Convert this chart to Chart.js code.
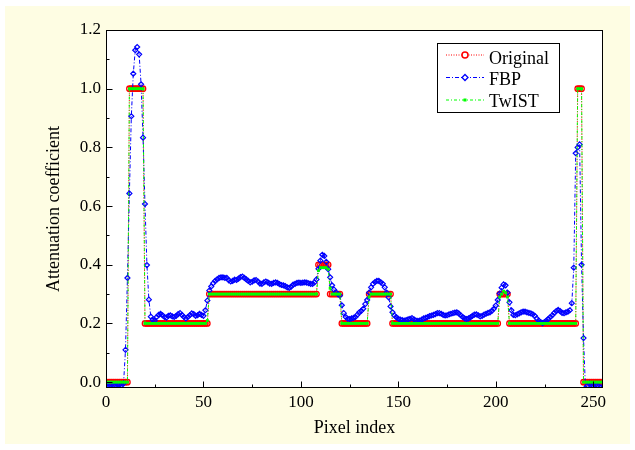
<!DOCTYPE html>
<html lang="en">
<head>
<meta charset="UTF-8" />
<title>Attenuation profile</title>
<script src="https://cdn.jsdelivr.net/npm/chart.js"></script>
<style>
  body { margin: 0; background: #ffffff; }
</style>
</head>
<body>
<canvas id="graficoPerfil" width="635" height="450"></canvas>
<script>
  // profile values, one per pixel index (0..255)
  const original = [
    0, 0, 0, 0, 0, 0, 0, 0, 0, 0, 0, 0, 1, 1, 1, 1,
    1, 1, 1, 1, 0.2, 0.2, 0.2, 0.2, 0.2, 0.2, 0.2, 0.2, 0.2, 0.2, 0.2, 0.2,
    0.2, 0.2, 0.2, 0.2, 0.2, 0.2, 0.2, 0.2, 0.2, 0.2, 0.2, 0.2, 0.2, 0.2, 0.2, 0.2,
    0.2, 0.2, 0.2, 0.2, 0.2, 0.3, 0.3, 0.3, 0.3, 0.3, 0.3, 0.3, 0.3, 0.3, 0.3, 0.3,
    0.3, 0.3, 0.3, 0.3, 0.3, 0.3, 0.3, 0.3, 0.3, 0.3, 0.3, 0.3, 0.3, 0.3, 0.3, 0.3,
    0.3, 0.3, 0.3, 0.3, 0.3, 0.3, 0.3, 0.3, 0.3, 0.3, 0.3, 0.3, 0.3, 0.3, 0.3, 0.3,
    0.3, 0.3, 0.3, 0.3, 0.3, 0.3, 0.3, 0.3, 0.3, 0.3, 0.3, 0.3, 0.3, 0.4, 0.4, 0.4,
    0.4, 0.4, 0.4, 0.3, 0.3, 0.3, 0.3, 0.3, 0.3, 0.2, 0.2, 0.2, 0.2, 0.2, 0.2, 0.2,
    0.2, 0.2, 0.2, 0.2, 0.2, 0.2, 0.2, 0.3, 0.3, 0.3, 0.3, 0.3, 0.3, 0.3, 0.3, 0.3,
    0.3, 0.3, 0.3, 0.2, 0.2, 0.2, 0.2, 0.2, 0.2, 0.2, 0.2, 0.2, 0.2, 0.2, 0.2, 0.2,
    0.2, 0.2, 0.2, 0.2, 0.2, 0.2, 0.2, 0.2, 0.2, 0.2, 0.2, 0.2, 0.2, 0.2, 0.2, 0.2,
    0.2, 0.2, 0.2, 0.2, 0.2, 0.2, 0.2, 0.2, 0.2, 0.2, 0.2, 0.2, 0.2, 0.2, 0.2, 0.2,
    0.2, 0.2, 0.2, 0.2, 0.2, 0.2, 0.2, 0.2, 0.2, 0.2, 0.3, 0.3, 0.3, 0.3, 0.3, 0.2,
    0.2, 0.2, 0.2, 0.2, 0.2, 0.2, 0.2, 0.2, 0.2, 0.2, 0.2, 0.2, 0.2, 0.2, 0.2, 0.2,
    0.2, 0.2, 0.2, 0.2, 0.2, 0.2, 0.2, 0.2, 0.2, 0.2, 0.2, 0.2, 0.2, 0.2, 0.2, 0.2,
    0.2, 0.2, 1, 1, 1, 0, 0, 0, 0, 0, 0, 0, 0, 0, 0, 0
  ];

  const fbp = [
    -0.01, -0.012, -0.01, -0.008, -0.01, -0.012, -0.011, -0.009, -0.01, -0.005, 0.11, 0.355, 0.643, 0.906, 1.051, 1.131,
    1.142, 1.117, 1.015, 0.833, 0.607, 0.399, 0.281, 0.223, 0.212, 0.21, 0.222, 0.229, 0.233, 0.228, 0.222, 0.22,
    0.226, 0.228, 0.224, 0.222, 0.226, 0.232, 0.235, 0.229, 0.222, 0.217, 0.222, 0.228, 0.234, 0.232, 0.226, 0.228,
    0.233, 0.229, 0.226, 0.245, 0.278, 0.312, 0.326, 0.337, 0.345, 0.35, 0.355, 0.357, 0.357, 0.355, 0.355, 0.347,
    0.343, 0.345, 0.349, 0.348, 0.353, 0.358, 0.36, 0.355, 0.35, 0.345, 0.34, 0.342, 0.347, 0.348, 0.343, 0.336,
    0.335, 0.34, 0.343, 0.34, 0.336, 0.335, 0.338, 0.34, 0.338, 0.334, 0.331, 0.33, 0.327, 0.323, 0.321, 0.325,
    0.332, 0.335, 0.338, 0.339, 0.338, 0.339, 0.34, 0.339, 0.337, 0.335, 0.335, 0.34, 0.35, 0.386, 0.414, 0.434,
    0.43, 0.41, 0.385, 0.357, 0.33, 0.315, 0.306, 0.3, 0.295, 0.262, 0.235, 0.222, 0.216, 0.215, 0.217, 0.219,
    0.222, 0.23, 0.238, 0.243, 0.25, 0.266, 0.28, 0.305, 0.323, 0.335, 0.341, 0.345, 0.345, 0.34, 0.335, 0.323,
    0.305, 0.289, 0.258, 0.238, 0.227, 0.221, 0.216, 0.213, 0.211, 0.21, 0.211, 0.214, 0.216, 0.218, 0.214, 0.21,
    0.209, 0.21, 0.213, 0.217, 0.219, 0.222, 0.225, 0.227, 0.229, 0.232, 0.235, 0.235, 0.233, 0.229, 0.227, 0.228,
    0.231, 0.233, 0.235, 0.237, 0.238, 0.234, 0.228, 0.222, 0.217, 0.215, 0.217, 0.221, 0.226, 0.23, 0.231, 0.228,
    0.224, 0.226, 0.23, 0.233, 0.236, 0.238, 0.243, 0.25, 0.261, 0.28, 0.302, 0.322, 0.333, 0.33, 0.305, 0.272,
    0.245, 0.229, 0.228, 0.231, 0.234, 0.238, 0.24, 0.24, 0.238, 0.236, 0.234, 0.231, 0.226, 0.217, 0.21, 0.205,
    0.201, 0.205, 0.21, 0.216, 0.222, 0.228, 0.236, 0.242, 0.246, 0.242, 0.236, 0.235, 0.238, 0.24, 0.245, 0.269,
    0.39, 0.78, 0.8, 0.81, 0.4, 0.15, -0.02, -0.012, -0.005, -0.008, -0.012, -0.01, -0.011, -0.015, -0.018, -0.02
  ];

  const twist = [
    0, 0, 0, 0, 0, 0, 0, 0, 0, 0, 0, 0, 1, 1, 1, 1,
    1, 1, 1, 1, 0.2, 0.2, 0.2, 0.2, 0.2, 0.2, 0.2, 0.2, 0.2, 0.2, 0.2, 0.2,
    0.2, 0.2, 0.2, 0.2, 0.2, 0.2, 0.2, 0.2, 0.2, 0.2, 0.2, 0.2, 0.2, 0.2, 0.2, 0.2,
    0.2, 0.2, 0.2, 0.2, 0.21, 0.3, 0.3, 0.3, 0.3, 0.3, 0.3, 0.3, 0.3, 0.3, 0.3, 0.3,
    0.3, 0.3, 0.3, 0.3, 0.3, 0.3, 0.3, 0.3, 0.3, 0.3, 0.3, 0.3, 0.3, 0.3, 0.3, 0.3,
    0.3, 0.3, 0.3, 0.3, 0.3, 0.3, 0.3, 0.3, 0.3, 0.3, 0.3, 0.3, 0.3, 0.3, 0.3, 0.3,
    0.3, 0.3, 0.3, 0.3, 0.3, 0.3, 0.3, 0.3, 0.3, 0.3, 0.3, 0.3, 0.3, 0.38, 0.39, 0.39,
    0.39, 0.39, 0.385, 0.32, 0.3, 0.3, 0.3, 0.3, 0.3, 0.2, 0.2, 0.2, 0.2, 0.2, 0.2, 0.2,
    0.2, 0.2, 0.2, 0.2, 0.2, 0.2, 0.2, 0.29, 0.3, 0.3, 0.3, 0.3, 0.3, 0.3, 0.3, 0.3,
    0.3, 0.3, 0.3, 0.2, 0.2, 0.2, 0.2, 0.2, 0.2, 0.2, 0.2, 0.2, 0.2, 0.2, 0.2, 0.2,
    0.2, 0.2, 0.2, 0.2, 0.2, 0.2, 0.2, 0.2, 0.2, 0.2, 0.2, 0.2, 0.2, 0.2, 0.2, 0.2,
    0.2, 0.2, 0.2, 0.2, 0.2, 0.2, 0.2, 0.2, 0.2, 0.2, 0.2, 0.2, 0.2, 0.2, 0.2, 0.2,
    0.2, 0.2, 0.2, 0.2, 0.2, 0.2, 0.2, 0.2, 0.2, 0.2, 0.29, 0.3, 0.31, 0.305, 0.29, 0.2,
    0.2, 0.2, 0.2, 0.2, 0.2, 0.2, 0.2, 0.2, 0.2, 0.2, 0.2, 0.2, 0.2, 0.2, 0.2, 0.2,
    0.2, 0.2, 0.2, 0.2, 0.2, 0.2, 0.2, 0.2, 0.2, 0.2, 0.2, 0.2, 0.2, 0.2, 0.2, 0.2,
    0.2, 0.2, 1, 1, 1, 0, 0, 0, 0, 0, 0, 0, 0, 0, 0, 0
  ];

  const xMajor = [0, 50, 100, 150, 200, 250];
  const xMinor = [25, 75, 125, 175, 225];
  const yMajor = [0, 0.2, 0.4, 0.6, 0.8, 1.0, 1.2];
  const yMinor = [0.1, 0.3, 0.5, 0.7, 0.9, 1.1];

  // pixel index along the x axis
  const pixelIndex = [];
  for (let i = 0; i < original.length; i++) pixelIndex.push(i);

  function pontos(serie) {
    return serie.map((v, i) => ({ x: pixelIndex[i], y: v }));
  }

  const fonte = "'Liberation Serif', 'Times New Roman', serif";

  const quadro = {
    id: "quadro",
    beforeDraw(chart) {
      const { ctx, chartArea: a } = chart;
      ctx.save();
      ctx.fillStyle = "#ffffff";
      ctx.fillRect(0, 0, chart.width, chart.height);
      ctx.fillStyle = "#fefde3";
      ctx.fillRect(5, 6, 625, 438);
      ctx.fillStyle = "#ffffff";
      ctx.fillRect(a.left, a.top, a.right - a.left, a.bottom - a.top);
      ctx.restore();
    },
    afterDraw(chart) {
      const { ctx, chartArea: a, scales } = chart;
      const l = Math.round(a.left) + 0.5;
      const r = Math.round(a.right) - 0.5;
      const t = Math.round(a.top) + 0.5;
      const b = Math.round(a.bottom) - 0.5;
      ctx.save();
      ctx.strokeStyle = "#000000";
      ctx.lineWidth = 1;
      ctx.strokeRect(l, t, r - l, b - t);

      // inward ticks
      ctx.beginPath();
      xMajor.forEach((v) => {
        const px = Math.round(scales.x.getPixelForValue(v)) + 0.5;
        ctx.moveTo(px, b); ctx.lineTo(px, b - 6);
      });
      xMinor.forEach((v) => {
        const px = Math.round(scales.x.getPixelForValue(v)) + 0.5;
        ctx.moveTo(px, b); ctx.lineTo(px, b - 3);
      });
      yMajor.forEach((v) => {
        const py = Math.round(scales.y.getPixelForValue(v)) + 0.5;
        ctx.moveTo(l, py); ctx.lineTo(l + 6, py);
      });
      yMinor.forEach((v) => {
        const py = Math.round(scales.y.getPixelForValue(v)) + 0.5;
        ctx.moveTo(l, py); ctx.lineTo(l + 3, py);
      });
      ctx.stroke();

      // legend box
      ctx.fillStyle = "#ffffff";
      ctx.fillRect(437, 43, 123, 70);
      ctx.strokeRect(437.5, 43.5, 122, 69);
      const linhas = [55, 77.5, 100];
      const bases = [64, 84.5, 106.5];
      chart.data.datasets.forEach((ds, i) => {
        const y = linhas[i];
        ctx.save();
        ctx.strokeStyle = ds.borderColor;
        ctx.lineWidth = 1;
        ctx.setLineDash(ds.borderDash);
        ctx.beginPath();
        ctx.moveTo(446, y); ctx.lineTo(484, y);
        ctx.stroke();
        ctx.setLineDash([]);
        ctx.beginPath();
        if (ds.pointStyle === "circle") {
          ctx.lineWidth = 1.5;
          ctx.fillStyle = "#ffffff";
          ctx.arc(465, y, 3, 0, Math.PI * 2);
          ctx.fill();
          ctx.stroke();
        } else if (ds.pointStyle === "rectRot") {
          ctx.lineWidth = 1.3;
          ctx.fillStyle = "#ffffff";
          ctx.moveTo(465, y - 3); ctx.lineTo(468, y); ctx.lineTo(465, y + 3); ctx.lineTo(462, y);
          ctx.closePath();
          ctx.fill();
          ctx.stroke();
        } else {
          ctx.fillStyle = ds.borderColor;
          ctx.fillRect(463.5, y - 1.5, 3, 3);
        }
        ctx.fillStyle = "#000000";
        ctx.font = "18px " + fonte;
        ctx.textBaseline = "alphabetic";
        ctx.fillText(ds.label, 489, bases[i]);
        ctx.restore();
      });
      ctx.restore();
    },
  };

  new Chart(document.getElementById("graficoPerfil"), {
    type: "line",
    data: {
      datasets: [
        {
          label: "Original",
          data: pontos(original),
          borderColor: "#ff0000",
          borderWidth: 1,
          borderDash: [1, 1.5],
          pointStyle: "circle",
          pointRadius: 2.7,
          pointBorderWidth: 1.3,
          pointBorderColor: "#ff0000",
          pointBackgroundColor: "rgba(0,0,0,0)",
          clip: 0,
          order: 3,
        },
        {
          label: "FBP",
          data: pontos(fbp),
          borderColor: "#0000ff",
          borderWidth: 1,
          borderDash: [4, 2, 1, 2],
          pointStyle: "rectRot",
          pointRadius: 2.5,
          pointBorderWidth: 1.2,
          pointBorderColor: "#0000ff",
          pointBackgroundColor: "rgba(0,0,0,0)",
          clip: 0,
          order: 2,
        },
        {
          label: "TwIST",
          data: pontos(twist),
          borderColor: "#00ff00",
          borderWidth: 1,
          borderDash: [3, 2, 1, 2],
          pointStyle: "rect",
          pointRadius: 2,
          pointBorderWidth: 0,
          pointBackgroundColor: "#00ff00",
          clip: 0,
          order: 1,
        },
      ],
    },
    options: {
      responsive: false,
      animation: false,
      events: [],
      layout: { padding: { top: 30, right: 32, left: 0, bottom: 0 } },
      elements: { line: { tension: 0 } },
      plugins: { legend: { display: false }, tooltip: { enabled: false } },
      scales: {
        x: {
          type: "linear",
          min: 0,
          max: 255,
          grid: { display: false, drawTicks: false },
          border: { display: false },
          afterBuildTicks: (scale) => {
            scale.ticks = xMajor.map((v) => ({ value: v }));
          },
          afterFit: (scale) => {
            scale.height = 62;
          },
          ticks: {
            color: "#000000",
            font: { family: fonte, size: 17 },
            padding: 4,
            maxRotation: 0,
          },
          title: {
            display: true,
            text: "Pixel index",
            color: "#000000",
            font: { family: fonte, size: 18 },
            padding: { top: 0, bottom: 11 },
          },
        },
        y: {
          type: "linear",
          min: -0.02,
          max: 1.2,
          grid: { display: false, drawTicks: false },
          border: { display: false },
          afterBuildTicks: (scale) => {
            scale.ticks = yMajor.map((v) => ({ value: v }));
          },
          afterFit: (scale) => {
            scale.width = 106;
          },
          ticks: {
            color: "#000000",
            font: { family: fonte, size: 17 },
            padding: 5,
            callback: (v) => Number(v).toFixed(1),
          },
          title: {
            display: true,
            text: "Attenuation coefficient",
            color: "#000000",
            font: { family: fonte, size: 18 },
            padding: { top: 43, bottom: 0 },
          },
        },
      },
    },
    plugins: [quadro],
  });
</script>
</body>
</html>
